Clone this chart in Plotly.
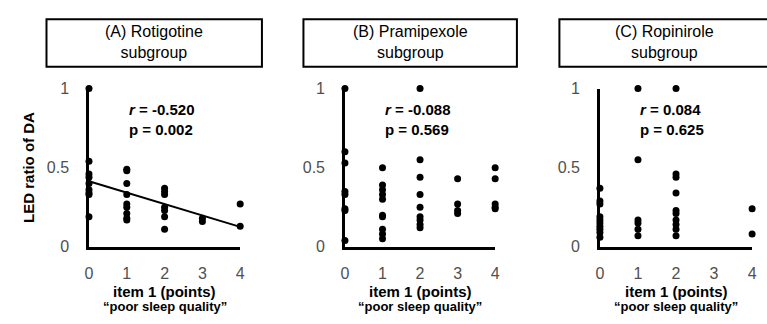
import plotly.graph_objects as go

# ---- data ----
panel_titles = ["(A) Rotigotine<br>subgroup", "(B) Pramipexole<br>subgroup", "(C) Ropinirole<br>subgroup"]
r_values = ["-0.520", "-0.088", "0.084"]
p_values = ["0.002", "0.569", "0.625"]
x_ticks = [0, 1, 2, 3, 4]
y_ticks = [0, 0.5, 1]
y_tick_labels = ["0", "0.5", "1"]

rot_x = [0]*9 + [1]*9 + [2]*7 + [3]*2 + [4]*2
rot_y = [1.0, 0.54, 0.46, 0.44, 0.40, 0.36, 0.34, 0.33, 0.19,
         0.49, 0.48, 0.40, 0.33, 0.27, 0.25, 0.21, 0.18, 0.17,
         0.37, 0.35, 0.33, 0.25, 0.23, 0.19, 0.11,
         0.18, 0.16,
         0.27, 0.13]

pra_x = [0]*8 + [1]*10 + [2]*9 + [3]*4 + [4]*5
pra_y = [1.0, 0.60, 0.53, 0.35, 0.33, 0.24, 0.23, 0.04,
         0.50, 0.39, 0.36, 0.33, 0.30, 0.20, 0.19, 0.11, 0.08, 0.05,
         1.0, 0.55, 0.44, 0.33, 0.25, 0.19, 0.17, 0.14, 0.12,
         0.43, 0.27, 0.23, 0.21,
         0.50, 0.43, 0.27, 0.25, 0.24]

rop_x = [0]*10 + [1]*6 + [2]*10 + [4]*2
rop_y = [0.37, 0.29, 0.27, 0.19, 0.17, 0.15, 0.13, 0.11, 0.09, 0.06,
         1.0, 0.55, 0.17, 0.15, 0.11, 0.07,
         1.0, 0.46, 0.44, 0.34, 0.23, 0.21, 0.17, 0.14, 0.11, 0.07,
         0.24, 0.08]

reg_x = [0, 4]
reg_intercept = 0.414
reg_slope = -0.072

# ---- figure ----
W, H = 767, 324
x_domains = [[86/W, 239/W], [345/W, 497/W], [603/W, 757/W]]
y_domain = [72/H, 239/H]
box_x = [(43, 261), (303, 519), (562, 778)]

fig = go.Figure()
series = [(rot_x, rot_y), (pra_x, pra_y), (rop_x, rop_y)]
for i, (xs, ys) in enumerate(series):
    xa = "x" if i == 0 else f"x{i+1}"
    ya = "y" if i == 0 else f"y{i+1}"
    fig.add_trace(go.Scatter(x=xs, y=ys, mode="markers", xaxis=xa, yaxis=ya,
                             marker=dict(color="black", size=7), cliponaxis=False,
                             showlegend=False, hoverinfo="skip"))
fig.add_trace(go.Scatter(x=reg_x, y=[reg_intercept + reg_slope*v for v in reg_x],
                         mode="lines", xaxis="x", yaxis="y",
                         line=dict(color="black", width=2), cliponaxis=False,
                         showlegend=False, hoverinfo="skip"))

tick_font = dict(family="Liberation Sans, Arial", size=16, color="#505050")
layout = dict(width=W, height=H, margin=dict(l=0, r=0, t=0, b=0),
              paper_bgcolor="white", plot_bgcolor="white", showlegend=False)
for i in range(3):
    sx = "" if i == 0 else str(i+1)
    layout["xaxis" + sx] = dict(domain=x_domains[i], range=[0, 4], anchor="y" + sx,
                                tickvals=x_ticks, ticktext=[str(t) for t in x_ticks],
                                showline=True, linecolor="black", linewidth=2.5,
                                showgrid=False, zeroline=False, ticks="",
                                ticklabelstandoff=10, tickfont=tick_font, fixedrange=True)
    layout["yaxis" + sx] = dict(domain=y_domain, range=[0, 1], anchor="x" + sx,
                                tickvals=y_ticks, ticktext=y_tick_labels,
                                showline=True, linecolor="black", linewidth=2.5,
                                showgrid=False, zeroline=False, ticks="",
                                ticklabelstandoff=14, tickfont=tick_font, fixedrange=True)
fig.update_layout(**layout)

shapes = []
annotations = []
for i in range(3):
    x0, x1 = box_x[i]
    shapes.append(dict(type="rect", xref="paper", yref="paper",
                       x0=x0/W, x1=x1/W, y0=(H-62)/H, y1=(H-12)/H,
                       line=dict(color="black", width=2), fillcolor="white"))
    annotations.append(dict(xref="paper", yref="paper", x=((x0+min(x1, 774))/2)/W, y=(H-36)/H,
                            text=panel_titles[i], showarrow=False, xanchor="center", yanchor="middle",
                            font=dict(family="Liberation Sans, Arial", size=16, color="black")))
    xa = "x" if i == 0 else f"x{i+1}"
    ya = "y" if i == 0 else f"y{i+1}"
    annotations.append(dict(xref=xa, yref=ya, x=1.0, y=0.805,
                            text=f"<b><i>r</i> = {r_values[i]}<br>p = {p_values[i]}</b>",
                            showarrow=False, xanchor="left", yanchor="middle", align="left",
                            font=dict(family="Liberation Sans, Arial", size=15, color="black")))
    cx = (x_domains[i][0] + x_domains[i][1]) / 2
    annotations.append(dict(xref="paper", yref="paper", x=cx, y=(H-299)/H,
                            text="<b>item 1 (points)</b>", showarrow=False,
                            xanchor="center", yanchor="middle",
                            font=dict(family="Liberation Sans, Arial", size=15, color="black")))
    annotations.append(dict(xref="paper", yref="paper", x=cx, y=(H-315)/H,
                            text="<b>\u201cpoor sleep quality\u201d</b>", showarrow=False,
                            xanchor="center", yanchor="middle",
                            font=dict(family="Liberation Sans, Arial", size=13, color="black")))
annotations.append(dict(xref="paper", yref="paper", x=24/W, y=(H-168)/H,
                        text="<b>LED ratio of DA</b>", showarrow=False, textangle=-90,
                        xanchor="center", yanchor="middle",
                        font=dict(family="Liberation Sans, Arial", size=15, color="black")))
fig.update_layout(shapes=shapes, annotations=annotations)

fig.write_html("out.html")
